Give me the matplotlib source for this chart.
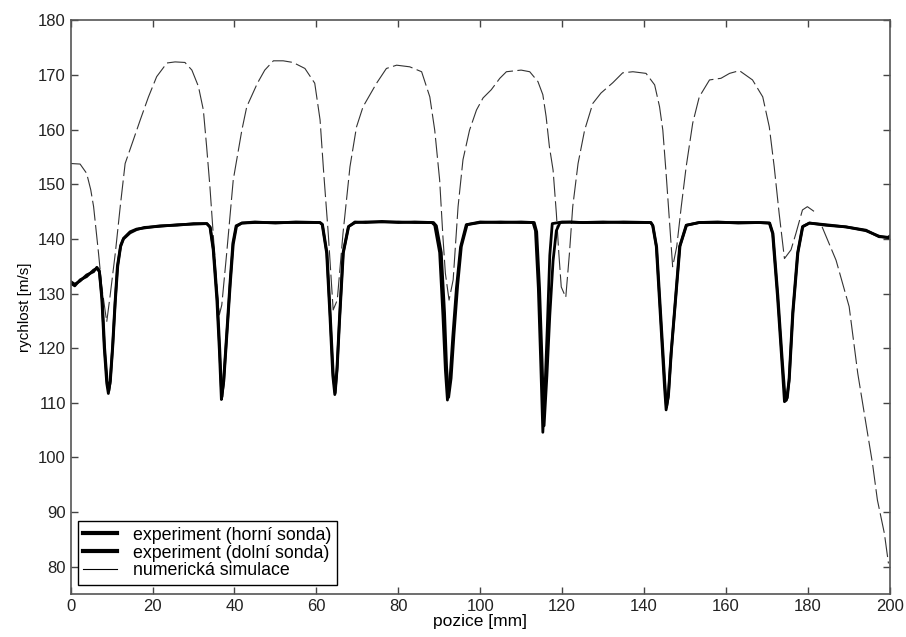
import numpy as np
import matplotlib
matplotlib.use("Agg")
from matplotlib import pyplot as plt
from matplotlib.lines import Line2D

plt.rcParams['font.family'] = ['Liberation Sans', 'DejaVu Sans']

# experiment - horni sonda
x_horni = [0, 1, 2.3, 3.9, 5.6, 6.4, 7.0, 7.6, 8.2, 8.8, 9.2, 9.6, 10.2, 10.8, 11.4, 12.2, 12.9,
           14.5, 16.1, 18, 21.8, 26, 30, 33.2, 34.0, 34.8, 35.7, 36.3, 36.8, 37.3, 38.1, 38.9,
           39.6, 40.4, 41.8, 45, 50, 55, 60.8, 61.4, 62.5, 63.3, 64.0, 64.5, 65.0, 65.6, 66.5,
           67.8, 69.4, 72, 76, 80, 84, 88.2, 88.9, 90.1, 90.9, 91.5, 92.0, 92.6, 93.3, 94.2,
           95.2, 96.6, 100, 105, 110, 112.9, 113.5, 114.2, 114.8, 115.3, 115.8, 116.4, 117.0,
           117.6, 120, 125, 130, 135, 141.6, 142.1, 143.0, 144.2, 145.0, 145.4, 145.9, 146.6,
           147.4, 148.7, 150.3, 153.5, 158, 163, 168, 170.6, 171.4, 172.6, 173.7, 174.3, 174.8,
           175.4, 176.3, 177.5, 178.7, 180.4, 184.4, 189.3, 194.2, 197.4, 199.7, 200]
y_horni = [131.9, 131.4, 132.5, 133.1, 134.3, 134.6, 134.0, 129, 120, 113.6, 111.7, 113.6, 120,
           128, 135, 138.8, 140.1, 141.3, 141.8, 142.0, 142.4, 142.5, 142.8, 142.8, 142.2, 138,
           128.8, 119.7, 110.6, 113.6, 122.7, 131.9, 139.2, 142.4, 142.9, 143.1, 142.9, 143.1,
           143.0, 142.7, 137.4, 126, 115, 111.5, 116, 125, 137.4, 142.2, 143.1, 143.0, 143.2,
           143.0, 143.1, 143.0, 142.5, 137.5, 126, 116, 110.5, 114, 122, 131, 138.5, 142.6,
           143.1, 143.0, 143.1, 143.0, 141.5, 131, 117, 104.6, 112, 124, 137, 142.8, 143.1,
           143.0, 143.1, 143.0, 143.0, 142.5, 138.6, 123.3, 113, 108.7, 111, 119, 126.4, 138.6,
           142.5, 143.0, 143.1, 142.9, 143.0, 142.9, 141.0, 129.4, 117.2, 110.2, 110.5, 114,
           126.4, 137.4, 142.2, 142.9, 142.5, 142.2, 141.6, 140.4, 140.3, 140.5]

# experiment - dolni sonda
x_dolni = [0, 1, 2.3, 3.9, 5.6, 6.4, 7.0, 7.7, 8.3, 8.9, 9.3, 9.7, 10.3, 10.9, 11.5, 12.2, 12.9,
           14.5, 16.1, 18, 21.8, 26, 30, 33.3, 34.1, 34.9, 35.8, 36.4, 36.9, 37.4, 38.2, 39.0,
           39.7, 40.5, 41.8, 45, 50, 55, 60.9, 61.5, 62.6, 63.4, 64.1, 64.6, 65.1, 65.7, 66.6,
           67.9, 69.5, 72, 76, 80, 84, 88.6, 89.3, 90.5, 91.3, 91.8, 92.3, 92.9, 93.6, 94.5,
           95.4, 96.8, 100, 105, 110, 113.2, 113.8, 114.5, 115.1, 115.6, 116.3, 117.0, 117.8,
           118.6, 119.5, 122, 125, 130, 135, 141.7, 142.2, 143.1, 144.3, 145.1, 145.5, 146.0,
           146.7, 147.5, 148.8, 150.4, 153.5, 158, 163, 168, 170.7, 171.5, 172.7, 173.8, 174.5,
           175.0, 175.5, 176.4, 177.6, 178.8, 180.4, 184.4, 189.3, 194.2, 197.4, 199.7, 200]
y_dolni = [132.2, 131.7, 132.3, 133.4, 134.0, 134.8, 134.2, 129, 120, 114, 112.2, 114, 120.5,
           128.5, 135, 138.6, 140.0, 141.1, 141.7, 142.1, 142.3, 142.6, 142.7, 142.8, 142.1,
           138, 129, 120, 111.0, 114, 123, 132, 139, 142.3, 142.9, 143.0, 143.0, 143.0, 143.0,
           142.6, 137.4, 126, 115.5, 111.8, 116.5, 125.5, 137.5, 142.3, 143.0, 143.1, 143.1,
           143.1, 143.0, 143.0, 142.4, 137.5, 126.5, 116.5, 111.0, 114.5, 122.5, 131.5, 138.6,
           142.6, 143.0, 143.1, 143.0, 143.0, 141.3, 131, 118, 105.8, 115, 126, 136, 141.5,
           143.0, 143.1, 143.0, 143.0, 143.1, 143.0, 142.4, 138.5, 123.5, 113.5, 109.2, 111.5,
           119.5, 126.8, 138.7, 142.5, 143.0, 143.0, 143.0, 143.0, 142.9, 141.0, 129.6, 117.5,
           110.5, 110.9, 114.5, 126.6, 137.5, 142.3, 142.9, 142.6, 142.2, 141.5, 140.5, 140.2, 140.4]

# numericka simulace (gap between the two branches)
x_sim = [0.0, 2.3, 3.9, 4.9, 5.6, 6.8, 7.6, 8.8, 9.6, 10.9, 12.1, 13.3, 15.3, 17.0, 19.0, 21.0,
         23.5, 25.5, 27.9, 29.6, 31.2, 32.4, 33.2, 34.0, 34.8, 35.7, 36.3, 36.9, 38.1, 39.7,
         41.8, 43.0, 45.6, 47.4, 49.5, 51.9, 54.3, 57.2, 59.6, 60.9, 61.8, 62.9, 64.1, 65.1,
         66.5, 68.2, 69.8, 71.4, 74.7, 77.1, 79.6, 82.8, 85.7, 87.7, 88.9, 90.1, 90.9, 91.5,
         92.4, 93.4, 94.6, 95.8, 97.4, 99.1, 100.7, 102.7, 104.8, 106.4, 110.0, 112.1, 114.1,
         115.3, 116.1, 116.9, 117.8, 118.6, 119.2, 119.8, 120.9, 121.8, 122.6, 123.9, 125.5,
         127.5, 129.5, 132.4, 134.8, 137.3, 140.5, 142.6, 143.8, 144.6, 145.4, 146.2, 147.0,
         148.0, 149.1, 150.3, 151.9, 153.5, 156.0, 158.8, 160.9, 163.3, 166.5, 169.0, 170.6,
         171.8, 173.0, 174.3, 175.9, 177.1, 178.7, 179.9, 181.6, np.nan,
         183.5, 186.9, 190.1, 192.2, 194.2, 195.8, 197.0, 198.7, 199.7]
y_sim = [153.8, 153.7, 152.0, 149.0, 145.9, 137.4, 131.2, 124.8, 129.4, 137.4, 145.9, 153.8,
         158.1, 161.8, 166.0, 169.7, 172.2, 172.4, 172.3, 170.9, 167.9, 163.6, 156.9, 149.6,
         141.0, 131.2, 126.1, 127.9, 137.4, 150.8, 159.9, 164.2, 168.5, 170.9, 172.6, 172.6,
         172.3, 171.2, 168.5, 161.8, 152.0, 141.0, 127.0, 128.8, 141.0, 153.2, 160.5, 164.2,
         168.5, 171.2, 171.8, 171.5, 170.6, 166.0, 159.9, 150.8, 140.4, 133.7, 128.8, 132.5,
         145.9, 154.5, 159.9, 163.6, 165.8, 167.3, 169.4, 170.6, 170.9, 170.6, 168.8, 166.4,
         162.4, 156.9, 152.6, 144.7, 137.4, 131.2, 129.3, 137.4, 145.9, 153.8, 159.9, 164.8,
         166.7, 168.6, 170.4, 170.6, 170.3, 168.2, 164.2, 159.9, 152.0, 143.5, 134.9, 138.6,
         145.9, 153.2, 161.2, 166.0, 169.1, 169.4, 170.3, 170.8, 169.1, 166.0, 160.5, 153.2,
         144.7, 136.4, 138.0, 141.0, 145.3, 145.9, 145.0, np.nan,
         142.2, 136.1, 127.6, 115.4, 106.2, 98.9, 92.2, 86.1, 80.6]

labels = ['experiment (horní sonda)', 'experiment (dolní sonda)', 'numerická simulace']

fig = plt.figure(figsize=(9.06, 6.37), dpi=100)
ax = fig.add_axes([0.078, 0.0675, 0.904, 0.9005])

ax.plot(x_sim, y_sim, color='#333333', lw=0.8, dashes=(18, 4))
ax.plot(x_horni, y_horni, color='black', lw=2.0)
ax.plot(x_dolni, y_dolni, color='black', lw=2.0)

ax.set_xlim(0, 200)
ax.set_ylim(75, 180)
ax.set_xticks(np.arange(0, 201, 20))
ax.set_yticks(np.arange(80, 181, 10))
ax.tick_params(direction='in', top=True, right=True, length=5, width=1,
               colors='#444444', labelcolor='#222222', labelsize=12)
for s in ax.spines.values():
    s.set_color('#555555')
    s.set_linewidth(1.2)

ax.set_xlabel('pozice [mm]', fontsize=12.5, labelpad=0)
ax.set_ylabel('rychlost [m/s]', fontsize=11, labelpad=4)

handles = [Line2D([], [], color='black', lw=3),
           Line2D([], [], color='black', lw=3),
           Line2D([], [], color='black', lw=0.8)]
leg = ax.legend(handles, labels, loc='lower left', bbox_to_anchor=(0.009, 0.016),
                borderaxespad=0, fontsize=12.8, fancybox=False, framealpha=1,
                edgecolor='black', labelspacing=0.05, handlelength=1.9,
                borderpad=0.3, handletextpad=0.9)
leg.get_frame().set_linewidth(1.0)

fig.savefig('out.png', dpi=100)
